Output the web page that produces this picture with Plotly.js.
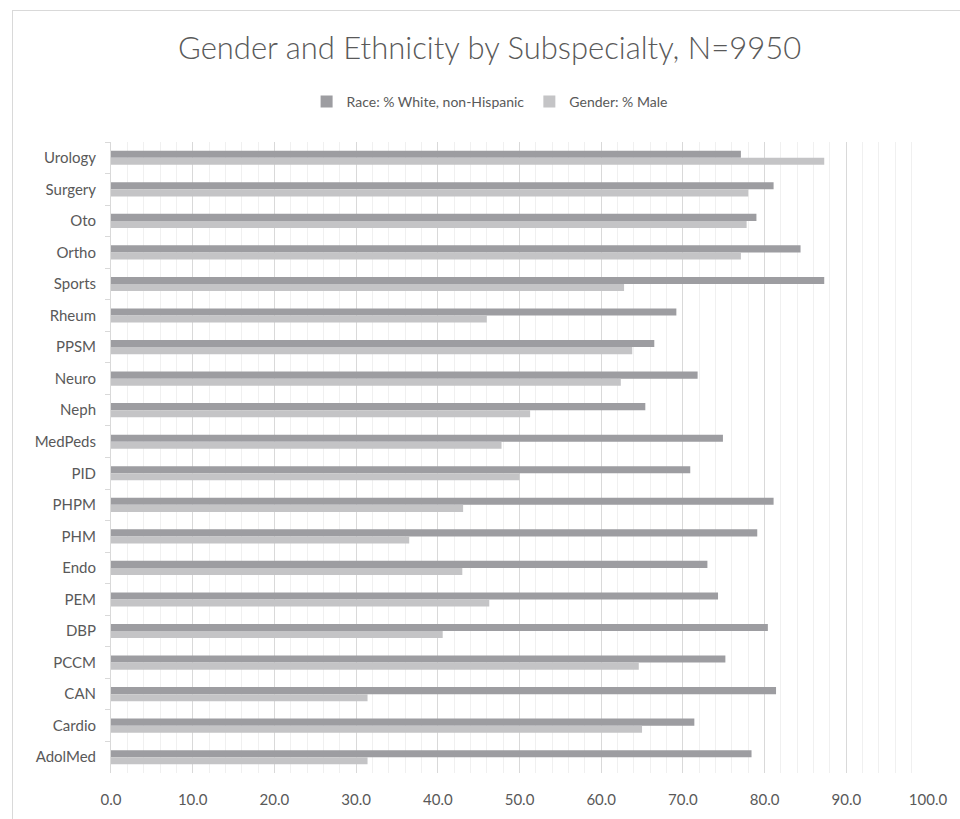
<!DOCTYPE html>
<html>
<head>
<meta charset="utf-8">
<script src="https://cdn.plot.ly/plotly-3.0.1.min.js"></script>
<style>
  html, body { margin: 0; padding: 0; background: #ffffff; }
  #wrap { position: relative; width: 960px; height: 819px; overflow: hidden; }
  #chart { position: absolute; left: 0; top: 0; width: 960px; height: 819px; }
  #frame { position: absolute; left: 12px; top: 10px; width: 960px; height: 830px;
           border: 1px solid #d9d9d9; pointer-events: none; box-sizing: border-box; }
</style>
</head>
<body>
<div id="wrap">
  <div id="chart"></div>
  <div id="frame"></div>
</div>
<script>
// Categories listed top to bottom as they appear in the chart
const categories = ["Urology", "Surgery", "Oto", "Ortho", "Sports", "Rheum", "PPSM", "Neuro", "Neph", "MedPeds",
                    "PID", "PHPM", "PHM", "Endo", "PEM", "DBP", "PCCM", "CAN", "Cardio", "AdolMed"];
const raceWhite = [77.1, 81.1, 79.0, 84.4, 87.3, 69.2, 66.5, 71.8, 65.4, 74.9,
                   70.9, 81.1, 79.1, 73.0, 74.3, 80.4, 75.2, 81.4, 71.4, 78.4];
const genderMale = [87.3, 78.0, 77.8, 77.1, 62.8, 46.0, 63.8, 62.4, 51.3, 47.8,
                    50.0, 43.1, 36.5, 43.0, 46.3, 40.6, 64.6, 31.4, 65.0, 31.4];
const seriesNames = ["Race: % White, non-Hispanic", "Gender: % Male"];
const xTickVals = [0, 10, 20, 30, 40, 50, 60, 70, 80, 90, 100];
const xTickText = ["0.0", "10.0", "20.0", "30.0", "40.0", "50.0", "60.0", "70.0", "80.0", "90.0", "100.0"];

const font = "Lato, 'Open Sans', sans-serif";
const textColor = "#595959";

const traces = [
  { type: "bar", orientation: "h", name: seriesNames[0], y: categories, x: raceWhite,
    marker: { color: "#9d9da1" }, hoverinfo: "x+y" },
  { type: "bar", orientation: "h", name: seriesNames[1], y: categories, x: genderMale,
    marker: { color: "#c4c4c6" }, hoverinfo: "x+y" }
];

const layout = {
  width: 960, height: 819,
  paper_bgcolor: "#ffffff", plot_bgcolor: "#ffffff",
  margin: { l: 111, r: 32, t: 142, b: 46 },
  font: { family: font, color: textColor },
  title: { text: "Gender and Ethnicity by Subspecialty, N=9950",
           font: { family: "Lato, sans-serif", size: 31, color: textColor, weight: 300 },
           xref: "container", x: 0.51, xanchor: "center",
           yref: "container", y: 1 - 48 / 819, yanchor: "middle" },
  showlegend: true,
  legend: { orientation: "h", xref: "container", x: 0.51, xanchor: "center",
            yref: "container", y: 1 - 102 / 819, yanchor: "middle",
            font: { size: 14, color: textColor }, itemwidth: 30, tracegroupgap: 0 },
  barmode: "group", bargap: 0.55, bargroupgap: 0,
  xaxis: {
    range: [0, 100], tickmode: "array", tickvals: xTickVals, ticktext: xTickText,
    showgrid: true, gridcolor: "#d9d9d9", gridwidth: 1,
    minor: { dtick: 2, showgrid: true, gridcolor: "#f0f0f0", gridwidth: 1 },
    zeroline: false, showline: false, ticks: "",
    ticklabelstandoff: 16,
    tickfont: { size: 15, color: textColor }, fixedrange: true
  },
  yaxis: {
    type: "category", autorange: "reversed",
    showgrid: false, zeroline: false,
    showline: true, linecolor: "#d9d9d9", linewidth: 1,
    ticks: "outside", ticklen: 5, tickcolor: "#d9d9d9", tickson: "boundaries",
    ticklabelstandoff: 11,
    tickfont: { size: 15, color: textColor }, fixedrange: true
  }
};

Plotly.newPlot("chart", traces, layout, { displayModeBar: false, staticPlot: true });
</script>
</body>
</html>
